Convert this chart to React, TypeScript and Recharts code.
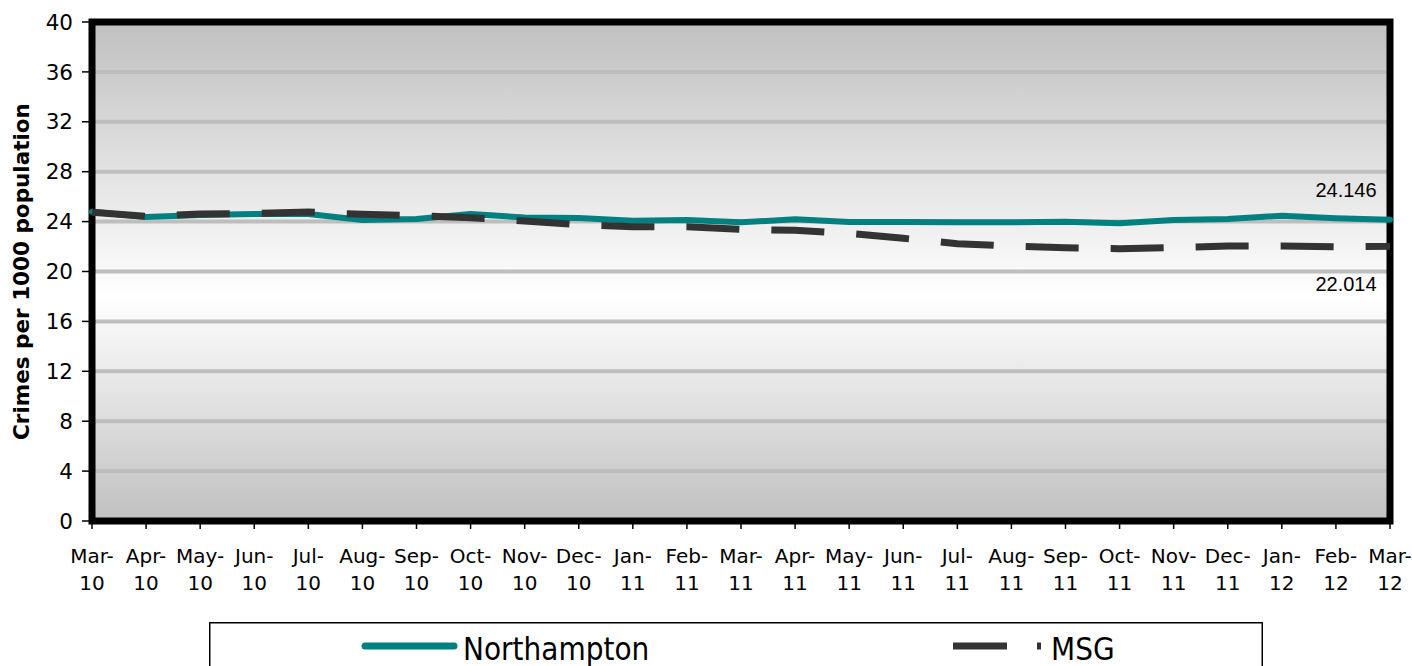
import React from 'react';
import { LineChart, Line, XAxis, YAxis, CartesianGrid, ReferenceArea, Legend, LabelList } from 'recharts';

const months = [
  'Mar-10', 'Apr-10', 'May-10', 'Jun-10', 'Jul-10', 'Aug-10', 'Sep-10', 'Oct-10', 'Nov-10', 'Dec-10',
  'Jan-11', 'Feb-11', 'Mar-11', 'Apr-11', 'May-11', 'Jun-11', 'Jul-11', 'Aug-11', 'Sep-11', 'Oct-11',
  'Nov-11', 'Dec-11', 'Jan-12', 'Feb-12', 'Mar-12',
];

const northampton = [
  24.79, 24.37, 24.53, 24.61, 24.61, 24.13, 24.21, 24.61, 24.33, 24.29,
  24.07, 24.13, 23.94, 24.18, 23.97, 23.97, 23.95, 23.94, 23.99, 23.86,
  24.13, 24.21, 24.47, 24.26, 24.146,
];

const msg = [
  24.75, 24.42, 24.6, 24.66, 24.77, 24.58, 24.47, 24.31, 24.05, 23.75,
  23.59, 23.59, 23.38, 23.3, 23.06, 22.66, 22.23, 22.04, 21.91, 21.83,
  21.91, 22.04, 22.04, 21.99, 22.014,
];

const yTicks = [0, 4, 8, 12, 16, 20, 24, 28, 32, 36, 40];
const seriesNames = ['Northampton', 'MSG'];
const yTitle = 'Crimes per 1000 population';

const TEAL = '#008080';
const DARK = '#333333';

const data = months.map((m, i) => ({ month: m, northampton: northampton[i], msg: msg[i] }));

const MonthTick = (props: any) => {
  const { x, y, payload } = props;
  const parts = String(payload.value).split('-');
  return (
    <text x={x} y={y} textAnchor="middle" fontFamily="'DejaVu Sans', sans-serif" fontSize={20} fill="#000">
      <tspan x={x} dy={30}>{parts[0] + '-'}</tspan>
      <tspan x={x} dy={27}>{parts[1]}</tspan>
    </text>
  );
};

const endLabel = (above: boolean) => (props: any) => {
  const { x, y, value, index } = props;
  if (index !== months.length - 1) return null;
  return (
    <text
      x={x - 44}
      y={above ? y - 23 : y + 44.5}
      textAnchor="middle"
      fontFamily="'Liberation Sans', Arial, sans-serif"
      fontSize={20}
      fill="#000"
    >
      {String(value)}
    </text>
  );
};

const LegendBox = () => (
  <svg width={1054} height={60} style={{ display: 'block', overflow: 'visible' }}>
    <rect x={0.75} y={0.75} width={1052.5} height={80} fill="#fff" stroke="#000" strokeWidth={1.5} />
    <line x1={156} y1={24} x2={245} y2={24} stroke={TEAL} strokeWidth={7} strokeLinecap="round" />
    <g transform="translate(254,37.5) scale(1,1.12)">
      <text x={0} y={0} fontFamily="'DejaVu Sans', sans-serif" fontSize={28} fill="#000">{seriesNames[0]}</text>
    </g>
    <line x1={744} y1={24} x2={832} y2={24} stroke={DARK} strokeWidth={7} strokeDasharray="54 30" />
    <g transform="translate(842,37.5) scale(1,1.12)">
      <text x={0} y={0} fontFamily="'DejaVu Sans', sans-serif" fontSize={28} fill="#000">{seriesNames[1]}</text>
    </g>
  </svg>
);

export default function App() {
  return (
    <div style={{ position: 'absolute', left: 0, top: 0, width: 1412, height: 666, background: '#fff' }}>
      <LineChart width={1412} height={666} data={data} margin={{ top: 22, right: 22, bottom: 0, left: 0 }}>
        <defs>
          <linearGradient id="plotBg" x1="0" y1="0" x2="0" y2="1">
            <stop offset="0" stopColor="#c0c0c0" />
            <stop offset="0.55" stopColor="#ffffff" />
            <stop offset="1" stopColor="#c0c0c0" />
          </linearGradient>
        </defs>
        <CartesianGrid vertical={false} stroke="#bebebe" strokeWidth={4} fill="url(#plotBg)" fillOpacity={1} />
        <XAxis
          dataKey="month"
          interval={0}
          height={145}
          axisLine={false}
          tickSize={8}
          tickMargin={4}
          tickLine={{ stroke: '#000', strokeWidth: 1.5 }}
          tick={<MonthTick />}
        />
        <YAxis
          domain={[0, 40]}
          ticks={yTicks}
          width={92}
          axisLine={false}
          tickSize={10}
          tickMargin={9}
          tickLine={{ stroke: '#000', strokeWidth: 1.5 }}
          tick={{ fontFamily: "'DejaVu Sans', sans-serif", fontSize: 21.5, fill: '#000' }}
          label={{
            value: yTitle,
            angle: -90,
            position: 'insideLeft',
            offset: 21,
            style: { textAnchor: 'middle', fontFamily: "'DejaVu Sans', sans-serif", fontWeight: 'bold', fontSize: 21.5, fill: '#000' },
          }}
        />
        <ReferenceArea
          x1={months[0]}
          x2={months[months.length - 1]}
          y1={0}
          y2={40}
          fill="none"
          fillOpacity={0}
          stroke="#000"
          strokeWidth={7}
          ifOverflow="visible"
        />
        <Line
          type="linear"
          dataKey="northampton"
          name={seriesNames[0]}
          stroke={TEAL}
          strokeWidth={6}
          strokeLinecap="round"
          strokeLinejoin="round"
          dot={false}
          activeDot={false}
          isAnimationActive={false}
        >
          <LabelList dataKey="northampton" content={endLabel(true)} />
        </Line>
        <Line
          type="linear"
          dataKey="msg"
          name={seriesNames[1]}
          stroke={DARK}
          strokeWidth={7}
          strokeDasharray="53 32"
          dot={false}
          activeDot={false}
          isAnimationActive={false}
        >
          <LabelList dataKey="msg" content={endLabel(false)} />
        </Line>
        <Legend
          verticalAlign="bottom"
          content={<LegendBox />}
          wrapperStyle={{ position: 'absolute', left: 209, top: 622, width: 1054, height: 0, margin: 0, padding: 0 }}
        />
      </LineChart>
    </div>
  );
}
